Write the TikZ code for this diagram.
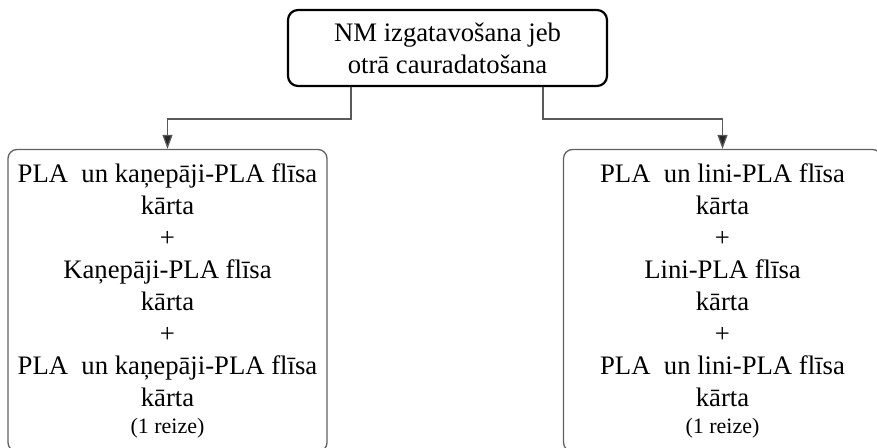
\documentclass[tikz,border=0pt]{standalone}
\usepackage{fontspec}
\setmainfont{Liberation Serif}
\usetikzlibrary{arrows.meta}
\begin{document}
\begin{tikzpicture}[x=1pt,y=-1pt,
  txt/.style={align=center, font=\fontsize{26.7}{32}\selectfont, inner sep=0pt},
  headbox/.style={txt, draw=black, line width=2.2pt, rounded corners=10pt,
    minimum width=319pt, minimum height=76pt},
  sidebox/.style={txt, draw=black!62, line width=1.3pt, rounded corners=9pt,
    minimum width=319pt, minimum height=302pt},
  conn/.style={draw=black!65, line width=1.3pt},
  tip/.style={-{Triangle[length=14pt,width=10pt,fill=black!85]}}]
\useasboundingbox (0,0) rectangle (877,447);

\node[headbox] (top) at (447.5,48) {NM izgatavošana jeb\\otrā cauradatošana};

\node[sidebox] (left) at (167.5,300.5) {PLA\ \ un kaņepāji-PLA flīsa\\kārta\\+\\Kaņepāji-PLA flīsa\\kārta\\+\\PLA\ \ un kaņepāji-PLA flīsa\\kārta\\[-5pt]{\fontsize{22}{26}\selectfont (1 reize)}};

\node[sidebox, minimum width=318pt] (right) at (722.5,300.5) {PLA\ \ un lini-PLA flīsa\\kārta\\+\\Lini-PLA flīsa\\kārta\\+\\PLA\ \ un lini-PLA flīsa\\kārta\\[-5pt]{\fontsize{22}{26}\selectfont (1 reize)}};

\coordinate (lt) at ([xshift=-96.5pt]top.south);
\coordinate (rt) at ([xshift=95.5pt]top.south);
\draw[conn, tip] (lt) -- ++(0,32) -| (left.north);
\draw[conn, tip] (rt) -- ++(0,32) -| (right.north);
\end{tikzpicture}
\end{document}
